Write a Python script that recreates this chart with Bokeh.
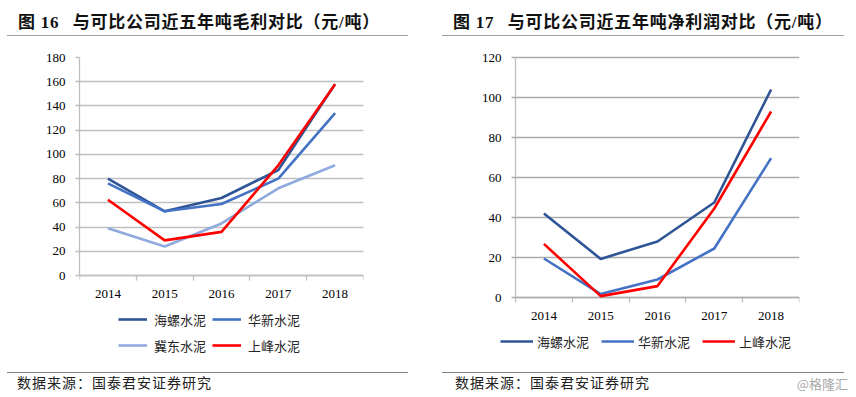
from bokeh.plotting import figure
from bokeh.models import Div, Legend, LegendItem, FixedTicker, Range1d, Grid
from bokeh.layouts import row, column
from bokeh.embed import file_html
from bokeh.resources import INLINE

# ---------------- data ----------------
years = [2014, 2015, 2016, 2017, 2018]
year_bounds = [2013.5, 2014.5, 2015.5, 2016.5, 2017.5, 2018.5]

gross_names = ["海螺水泥", "华新水泥", "冀东水泥", "上峰水泥"]
gross_conch = [80, 53, 64, 87, 158]
gross_huaxin = [76, 53, 59, 80, 134]
gross_jidong = [39, 24, 43, 72, 91]
gross_shangfeng = [62.5, 29, 36, 91, 158]
gross_yticks = [0, 20, 40, 60, 80, 100, 120, 140, 160, 180]

net_names = ["海螺水泥", "华新水泥", "上峰水泥"]
net_conch = [42, 19.3, 28, 47.5, 104]
net_huaxin = [19.5, 1.7, 9, 24.5, 69.7]
net_shangfeng = [26.8, 0.7, 5.7, 44.5, 93]
net_yticks = [0, 20, 40, 60, 80, 100, 120]

title_left = "图 16&ensp;&thinsp;与可比公司近五年吨毛利对比（元/吨）"
title_right = "图 17&ensp;&thinsp;与可比公司近五年吨净利润对比（元/吨）"
source_text = "数据来源：国泰君安证券研究"
watermark = "@格隆汇"

colors = {"海螺水泥": "#2F5597", "华新水泥": "#4472C4", "冀东水泥": "#8FAADC", "上峰水泥": "#FF0000"}

SERIF = "Liberation Serif"
CJK = "Noto Sans CJK SC"

FIG_W = 428
FIG_H = 330
TOP = 22
HAS_CROSS_BOUNDS = "cross_bounds" in Grid.properties()


def make_fig(series, names, yticks, axis_x, frame_left, border_right, axis_gap,
             grid_color, legend_loc, ncols, glyph_w, standoff, spacing):
    # value ymax sits TOP px below the figure top, value 0 sits axis_gap px above its bottom.
    # horizontally the y axis sits at axis_x (px in figure); the frame may start further left.
    shifted = axis_x != frame_left
    top_ext = 14 if shifted else 0
    plot_h = FIG_H - TOP - axis_gap
    ymax = yticks[-1]
    ppu = plot_h / ymax
    ymin = -axis_gap / ppu
    ytop = ymax + top_ext / ppu
    frame_w = FIG_W - frame_left - border_right
    px_per_year = (FIG_W - border_right - axis_x) / (year_bounds[-1] - year_bounds[0])
    xmin = year_bounds[0] - (axis_x - frame_left) / px_per_year

    p = figure(width=FIG_W, height=FIG_H, output_backend="svg", toolbar_location=None,
               x_range=Range1d(xmin, year_bounds[-1]),
               y_range=Range1d(ymin, ytop),
               min_border_left=frame_left, min_border_right=border_right,
               min_border_top=TOP - top_ext, min_border_bottom=0, margin=0)
    p.outline_line_color = None
    p.background_fill_color = "white"
    p.border_fill_color = "white"
    p.xgrid.visible = False
    p.yaxis.ticker = FixedTicker(ticks=yticks)
    p.yaxis.bounds = (yticks[0], yticks[-1])
    p.xaxis.ticker = FixedTicker(ticks=years, minor_ticks=year_bounds)
    p.xaxis.bounds = (year_bounds[0], year_bounds[-1])
    p.xaxis.fixed_location = 0
    p.xaxis.level = "underlay"

    if shifted:
        p.yaxis.fixed_location = year_bounds[0]
        p.yaxis.level = "underlay"

    for ax in (p.xaxis[0], p.yaxis[0]):
        ax.axis_line_color = "#BFBFBF"
        ax.axis_line_width = 1.3
        ax.major_label_text_font = SERIF
        ax.major_label_text_font_size = "13px"
        ax.major_label_text_color = "#000000"
    p.yaxis.major_tick_in = 0
    p.yaxis.major_tick_out = 4
    p.yaxis.major_tick_line_color = grid_color
    p.yaxis.major_tick_line_width = 1.3
    p.yaxis.minor_tick_line_color = None
    p.yaxis.major_label_standoff = 10
    p.xaxis.major_tick_in = 0
    p.xaxis.major_tick_out = 0
    p.xaxis.minor_tick_in = 0
    p.xaxis.minor_tick_out = 5
    p.xaxis.minor_tick_line_color = "#BFBFBF"
    p.xaxis.minor_tick_line_width = 1.3
    p.xaxis.major_label_standoff = 9

    if not shifted:
        p.ygrid.grid_line_color = grid_color
        p.ygrid.grid_line_width = 1.3
    elif HAS_CROSS_BOUNDS:
        p.ygrid.grid_line_color = grid_color
        p.ygrid.grid_line_width = 1.3
        p.ygrid.cross_bounds = (year_bounds[0], year_bounds[-1])
    else:
        # grid lines drawn as long inward ticks of the y axis
        p.ygrid.visible = False
        p.yaxis.major_tick_in = int(frame_w - (axis_x - frame_left))

    items = {}
    for name, vals in zip(names, series):
        r = p.line(years, vals, line_color=colors[name], line_width=2.6)
        items[name] = LegendItem(label=name, renderers=[r])

    kw = dict(items=[items[n] for n in names], location=legend_loc,
              orientation="horizontal",
              glyph_width=glyph_w, glyph_height=20, label_height=20,
              label_standoff=standoff, spacing=spacing,
              padding=0, margin=0, border_line_color=None,
              background_fill_alpha=0,
              label_text_font=CJK, label_text_font_size="13px",
              label_text_color="#262626")
    if ncols is not None:
        kw["ncols"] = ncols
    p.add_layout(Legend(**kw), "center")
    return p


p_left = make_fig([gross_conch, gross_huaxin, gross_jidong, gross_shangfeng], gross_names,
                  gross_yticks, 79, 79, 65, 90, "#C0C0C0", (39, 10), 2, 29, 7, 6)
p_right = make_fig([net_conch, net_huaxin, net_shangfeng], net_names,
                   net_yticks, 87, 42, 57, 68, "#ABABAB", (30, 14), None, 33, 4, 12)


def title_div(text, margin_left, width, pad_left):
    html = (f'<div style="box-sizing:border-box;margin-left:{margin_left}px;width:{width}px;height:36px;'
            f'border-bottom:1.5px solid #808080;padding-left:{pad_left}px;padding-top:11px;'
            f"font-family:'{SERIF}','{CJK}';font-weight:bold;font-size:17px;line-height:24px;"
            f'letter-spacing:0.75px;color:#111;white-space:nowrap">{text}</div>')
    return Div(text=html, width=FIG_W, height=35, margin=0)


def footer_div(margin_left, width, pad_left, mark=False):
    wm = ''
    if mark:
        wm = (f'<span style="position:absolute;right:-4px;top:3px;letter-spacing:0;'
              f"font-family:'{CJK}';font-size:13px;color:#A8A8A8;line-height:16px\">{watermark}</span>")
    html = (f'<div style="position:relative;box-sizing:border-box;margin-left:{margin_left}px;width:{width}px;'
            f'margin-top:7px;border-top:1.5px solid #808080;padding-left:{pad_left}px;padding-top:1px;'
            f"font-family:'{CJK}';font-size:14px;letter-spacing:1px;line-height:16px;color:#222;"
            f'white-space:nowrap">{source_text}{wm}</div>')
    return Div(text=html, width=FIG_W, height=30, margin=0)


left = column(title_div(title_left, 7, 401, 11), p_left, footer_div(7, 401, 10), margin=0)
right = column(title_div(title_right, 14, 402, 11), p_right, footer_div(14, 402, 13, mark=True), margin=0)
layout = row(left, right, margin=0)

open("out.html", "w").write(file_html(layout, INLINE))
